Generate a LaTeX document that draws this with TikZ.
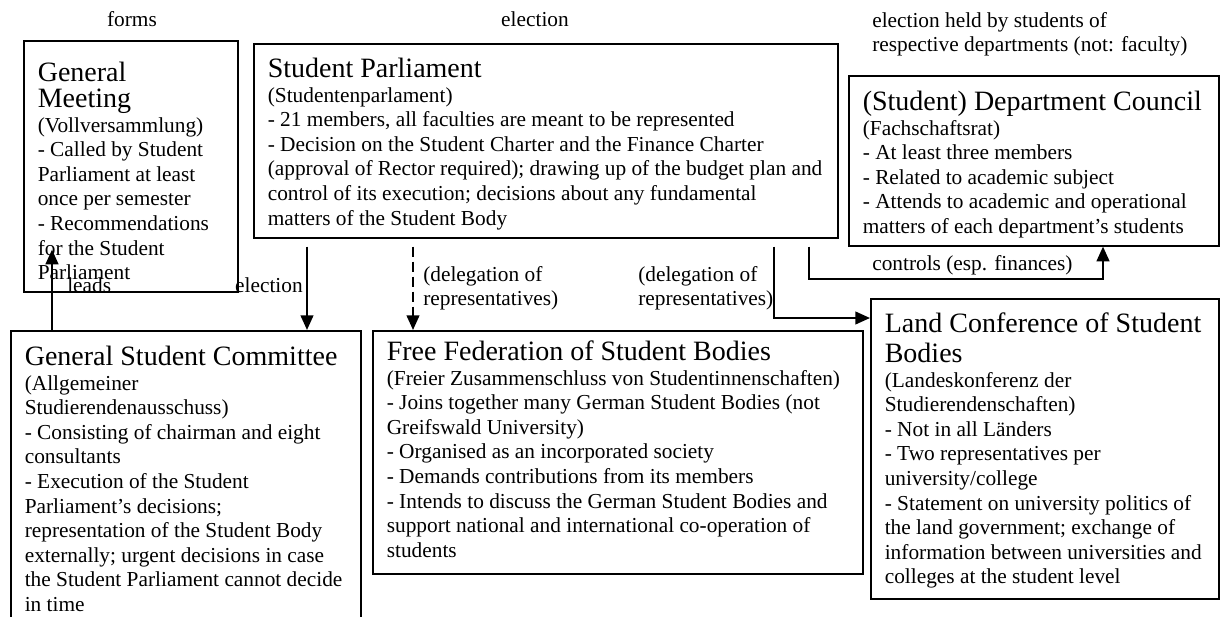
\documentclass[tikz,border=0pt]{standalone}
\usepackage{fontspec}
\setmainfont{Liberation Serif}
\usepackage{tikz}
\usetikzlibrary{arrows.meta,calc}

\tikzset{
  orgbox/.style={draw, line width=1.2pt, inner xsep=10.5pt, inner ysep=6pt, anchor=north west},
  lbl/.style={inner sep=0pt},
  arr/.style={line width=1.6pt, -{Triangle[length=11pt,width=9.5pt]}},
}

% box text: width, height, first-line strut, title, body lines
\newcommand{\orgtext}[5]{%
  \begin{minipage}[t][#2][t]{#1}%
    \rightskip=0pt plus 1fil minus 100pt
    {\fontsize{21}{19.5}\selectfont\rule{0pt}{#3}#4\par}
    #5
  \end{minipage}}

\begin{document}
\begin{tikzpicture}[x=0.75pt, y=-0.75pt, font=\fontsize{16}{18.4}\selectfont]
    \useasboundingbox (0,0) rectangle (1220,617);

    % boxes
    \node[orgbox] (gm) at (23,40) {\orgtext{139.5pt}{176.25pt}{24.75pt}{General\\Meeting}{%
        (Vollversammlung)\\- Called by Student\\Parliament at least\\once per semester\\%
        - Recommendations\\for the Student\\Parliament}};
    \node[orgbox] (sp) at (253,43) {\orgtext{417pt}{133.5pt}{19.5pt}{Student Parliament}{%
        (Studentenparlament)\\- 21 members, all faculties are meant to be represented\\%
        - Decision on the Student Charter and the Finance Charter\\%
        (approval of Rector required); drawing up of the budget plan and\\%
        control of its execution; decisions about any fundamental\\matters of the Student Body}};
    \node[orgbox] (dc) at (848,75) {\orgtext{256.5pt}{115.5pt}{20.25pt}{(Student) Department Council}{%
        (Fachschaftsrat)\\- At least three members\\- Related to academic subject\\%
        - Attends to academic and operational\\matters of each department’s students}};
    \node[orgbox] (gsc) at (10,330) {\orgtext{241.5pt}{213pt}{20.25pt}{General Student Committee}{%
        (Allgemeiner\\Studierendenausschuss)\\- Consisting of chairman and eight\\consultants\\%
        - Execution of the Student\\Parliament’s decisions;\\representation of the Student Body\\%
        externally; urgent decisions in case\\the Student Parliament cannot decide\\in time}};
    \node[orgbox] (ff) at (372,330) {\orgtext{346.5pt}{170.25pt}{16.5pt}{Free Federation of Student Bodies}{%
        (Freier Zusammenschluss von Studentinnenschaften)\\%
        - Joins together many German Student Bodies (not\\Greifswald University)\\%
        - Organised as an incorporated society\\- Demands contributions from its members\\%
        - Intends to discuss the German Student Bodies and\\%
        support national and international co-operation of\\students}};
    \node[orgbox] (lc) at (870,298) {\orgtext{240pt}{213pt}{19.5pt}{Land Conference of Student\\[3pt]Bodies}{%
        (Landeskonferenz der\\Studierendenschaften)\\- Not in all Länders\\- Two representatives per\\%
        university/college\\- Statement on university politics of\\the land government; exchange of\\%
        information between universities and\\colleges at the student level}};

    % labels
    \node[lbl, anchor=base] (forms) at (132,27) {forms};
    \node[lbl, anchor=base] (elecsp) at (535,27) {election};
    \node[lbl, anchor=north west, align=left] (elecdc) at (872,12)
        {election held by students of\\respective departments (not: faculty)};
    \node[lbl, anchor=base west] (leads) at (67,292) {leads};
    \node[lbl, anchor=base east] (elecgsc) at (303,292) {election};
    \node[lbl, anchor=north west, align=left] (delff) at (423,266) {(delegation of\\representatives)};
    \node[lbl, anchor=north west, align=left] (dellc) at (638,266) {(delegation of\\representatives)};
    \node[lbl, anchor=base west] (ctrl) at (872,270) {controls (esp. finances)};

    % connectors
    \draw[arr] ($(gsc.north west)+(42,0)$) -- ($(gm.south west)+(29,-43)$);
    \draw[arr] ($(sp.south west)+(54,8)$) coordinate (e1) -- (e1 |- gsc.north);
    \draw[arr, dash pattern=on 7.5pt off 3.75pt] ($(sp.south west)+(160,8)$) coordinate (d1) -- (d1 |- ff.north);
    \draw[arr] ($(sp.south west)+(521,8)$) |- ($(lc.north west)+(0,20)$);
    \draw[arr] ($(sp.south east)+(-30,8)$) -- ++(0,32) -| ($(dc.south west)+(255,0)$);
\end{tikzpicture}
\end{document}
